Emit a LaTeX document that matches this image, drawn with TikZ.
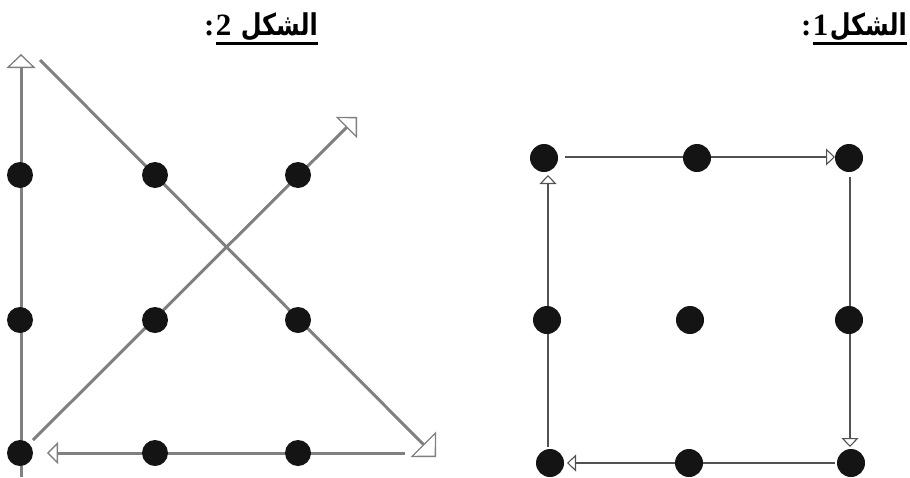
\documentclass[tikz,border=0pt]{standalone}
\usepackage{fontspec}
\usetikzlibrary{arrows.meta}
\newfontfamily\arabicfont[Script=Arabic]{DejaVu Sans}
\newfontfamily\digitfont{Liberation Serif}
\TeXXeTstate=1
\begin{document}
\begin{tikzpicture}[x=1pt,y=-1pt,
 dotA/.style={circle,fill=black!92,inner sep=0pt,minimum size=28pt},
 dotB/.style={circle,fill=black!92,inner sep=0pt,minimum size=26pt},
 lineA/.style={draw=black!68,line width=2.6pt},
 lineB/.style={draw=black!50,line width=3pt},
 tipA/.style={-{Triangle[open,length=9pt,width=17pt,line width=1.1pt]}},
 arword/.style={inner sep=0pt,font=\arabicfont\bfseries\fontsize{24}{28}\selectfont,yscale=1.25,transform shape},
 dgword/.style={inner sep=0pt,font=\digitfont\bfseries\fontsize{31}{34}\selectfont}
]
\useasboundingbox (0,0) rectangle (910,477);

% ---------- Figure 2 (left) ----------
\coordinate (v0) at (21,477);  \coordinate (v1) at (21,54);
\coordinate (d0) at (40,60);   \coordinate (d1) at (436,457);
\coordinate (e0) at (33,440);  \coordinate (e1) at (357,117);
\coordinate (h0) at (405,453); \coordinate (h1) at (47,453);
\draw[lineB,-{Triangle[open,length=14pt,width=29pt,line width=1.3pt]}] (v0) -- (v1);
\draw[lineB,-{Triangle[open,length=18pt,width=36pt,line width=1.3pt]}] (d0) -- (d1);
\draw[lineB,-{Triangle[open,length=15pt,width=30pt,line width=1.3pt]}] (e0) -- (e1);
\draw[lineB,-{Triangle[open,length=11pt,width=22pt,line width=1.3pt]}] (h0) -- (h1);

\node[dotB] (b11) at (20,175) {};
\node[dotB] (b12) at (155,175) {};
\node[dotB] (b13) at (298,175) {};
\node[dotB] (b21) at (20,320) {};
\node[dotB] (b22) at (155,320) {};
\node[dotB] (b23) at (298,320) {};
\node[dotB] (b31) at (20,453) {};
\node[dotB] (b32) at (155,453) {};
\node[dotB] (b33) at (298,453) {};

% ---------- Figure 1 (right) ----------
\coordinate (p0) at (565,157); \coordinate (p1) at (835,157);
\coordinate (q0) at (850,177); \coordinate (q1) at (850,447);
\coordinate (r0) at (835,463); \coordinate (r1) at (567,463);
\coordinate (s0) at (548,447); \coordinate (s1) at (548,175);
\draw[lineA,tipA] (p0) -- (p1);
\draw[lineA,tipA] (q0) -- (q1);
\draw[lineA,tipA] (r0) -- (r1);
\draw[lineA,tipA] (s0) -- (s1);

\node[dotA] (a11) at (544,158) {};
\node[dotA] (a12) at (697,158) {};
\node[dotA] (a13) at (849,158) {};
\node[dotA] (a21) at (547,320) {};
\node[dotA] (a22) at (690,320) {};
\node[dotA] (a23) at (849,320) {};
\node[dotA] (a31) at (550,463) {};
\node[dotA] (a32) at (689,463) {};
\node[dotA] (a33) at (851,463) {};

% ---------- Titles ----------
\node[arword,anchor=base east] (w2) at (318,35) {\beginR الشكل\endR};
\node[dgword,anchor=base east] (n2) at ([xshift=-9pt]w2.base west) {2};
\node[dgword,anchor=base east] (c2) at ([xshift=-1pt]n2.base west) {:};
\draw[line width=3pt] (n2.west |- 0,43) -- (w2.east |- 0,43);

\node[arword,anchor=base east] (w1) at (907,35) {\beginR الشكل\endR};
\node[dgword,anchor=base east] (n1) at ([xshift=-1pt]w1.base west) {1};
\node[dgword,anchor=base east] (c1) at ([xshift=-1pt]n1.base west) {:};
\draw[line width=3pt] (n1.west |- 0,43) -- (w1.east |- 0,43);
\end{tikzpicture}
\end{document}
